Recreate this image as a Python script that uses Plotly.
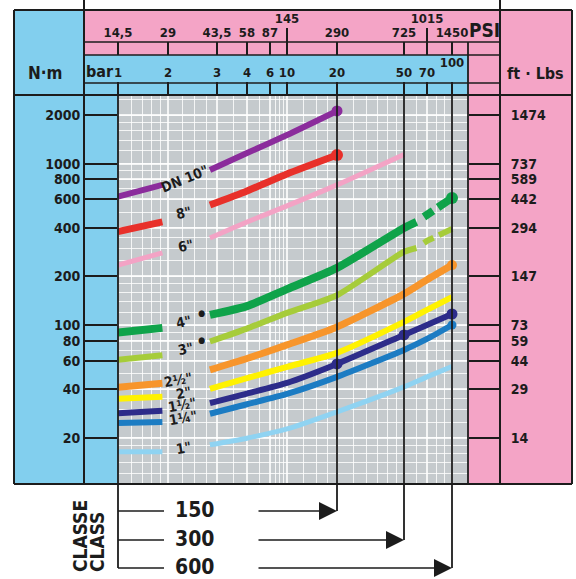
import numpy as np
import plotly.graph_objects as go

# ---------------- axis scales (as printed on the chart) ----------------
BAR_TICKS = [1, 2, 3, 4, 6, 10, 20, 50, 70, 100]
BAR_LABELS = ['1', '2', '3', '4', '6', '10', '20', '50', '70', '100']
PSI_LABELS = ['14,5', '29', '43,5', '58', '87', '145', '290', '725', '1015', '1450']
PSI_RAISED = ['145', '1015']
# non-uniform pressure scale of the printed chart (axis units, 0..350)
BAR_TICK_POS = [0, 50, 99, 129, 152, 169, 219, 286, 309, 334]
X_RANGE = [0, 350]

NM_TICKS = [20, 40, 60, 80, 100, 200, 400, 600, 800, 1000, 2000]
FTLB_LABELS = ['14', '29', '44', '59', '73', '147', '294', '442', '589', '737', '1474']

CLASSES = ['150', '300', '600']
CLASS_BAR = [20, 50, 100]

# ---------------- data: torque (N·m) vs pressure (bar) ----------------
SIZES = ['DN 10"', '8"', '6"', '4"', '3"', '2½"', '2"', '1½"', '1¼"', '1"']

P_STUB = [1.0, 1.85]
STUB_NM = {
    'DN 10"': [624, 738],
    '8"': [379, 435],
    '6"': [235, 280],
    '4"': [90, 96],
    '3"': [60.8, 65],
    '2½"': [41.2, 43.6],
    '2"': [34.9, 35.9],
    '1½"': [28.4, 29.4],
    '1¼"': [24.7, 25.1],
    '1"': [16.4, 16.4],
}

P_TO_20 = [2.83, 4, 10, 20]
P_TO_50 = [2.83, 4, 10, 20, 50]
P_TO_60 = [2.83, 4, 10, 20, 50, 60]
P_TO_100 = [2.83, 4, 10, 20, 50, 70, 100]
MAIN_P = {
    'DN 10"': P_TO_20, '8"': P_TO_20, '6"': P_TO_50,
    '4"': P_TO_60, '3"': P_TO_60,
    '2½"': P_TO_100, '2"': P_TO_100, '1½"': P_TO_100, '1¼"': P_TO_100, '1"': P_TO_100,
}
MAIN_NM = {
    'DN 10"': [913, 1163, 1504, 2120],
    '8"': [554, 677, 863, 1131],
    '6"': [346, 435, 547, 738, 1140],
    '4"': [115.6, 131, 167, 226, 399, 435],
    '3"': [79, 95, 119, 153, 284, 300],
    '2½"': [52.7, 62, 75.3, 97.3, 156, 191, 235],
    '2"': [40.2, 46.8, 55.0, 67.2, 104.5, 124, 149],
    '1½"': [32.8, 37.6, 43.8, 57.4, 86.8, 100, 117],
    '1¼"': [28.2, 32.3, 37.4, 47.7, 70.1, 82, 100],
    '1"': [18.1, 19.9, 22.7, 29.0, 41.4, 47.7, 55.3],
}
# dashed extension (higher class)
P_DASH = [60, 70, 100]
DASH_NM = {'4"': [435, 480, 612], '3"': [300, 332, 394]}

# highlighted points
DOTS = {'DN 10"': [20], '8"': [20], '4"': [100], '2½"': [100],
        '1½"': [20, 50, 100], '1¼"': [100]}

# ---------------- styles ----------------
COLORS = {
    'DN 10"': '#8b2c9c', '8"': '#e8302a', '6"': '#f3a3c5', '4"': '#0fa34a',
    '3"': '#a6cc3a', '2½"': '#f7952b', '2"': '#fff200', '1½"': '#2d2c8a',
    '1¼"': '#1c7cc3', '1"': '#8fd3f2',
}
WIDTHS = {
    'DN 10"': 6, '8"': 7, '6"': 5, '4"': 8, '3"': 6, '2½"': 7, '2"': 6,
    '1½"': 6, '1¼"': 6, '1"': 5,
}
DOT_SIZE = {'DN 10"': 11, '8"': 12, '4"': 12, '2½"': 10, '1½"': 11, '1¼"': 9}

INK = '#1c1c1c'
BLUE = '#82cfee'
PINK = '#f4a4c6'
GREY = '#c5cacd'
GRID = 'rgba(255,255,255,0.8)'
FONT = 'DejaVu Sans Condensed, Liberation Sans Narrow, Arial Narrow, sans-serif'

W, H = 576, 579
L, R, T, B = 118, 468, 10, 484   # paper area in pixels (plot x: 118..468)


def xpos(bar):
    return float(np.interp(np.log10(bar), np.log10(BAR_TICKS), BAR_TICK_POS))


def PX(x):
    return (x - L) / (R - L)


def PY(y):
    return (B - y) / (B - T)


GRID_BAR = [1.2, 1.4, 1.6, 1.8, 2.25, 2.5, 2.75, 3.5, 5, 7, 8, 9, 12.5, 15, 17.5,
            25, 30, 35, 40, 45, 60, 80, 90]
GRID_NM = [m * d for d in (10, 100, 1000) for m in (1, 1.2, 1.4, 1.6, 1.8, 2, 2.5, 3, 3.5, 4, 5, 6, 7, 8, 9)]

fig = go.Figure()

for name in SIZES:
    xs = [xpos(p) for p in P_STUB] + [None] + [xpos(p) for p in MAIN_P[name]]
    ys = STUB_NM[name] + [None] + MAIN_NM[name]
    fig.add_trace(go.Scatter(
        x=xs, y=ys, mode='lines', name=name, showlegend=False, hoverinfo='skip',
        line=dict(color=COLORS[name], width=WIDTHS[name], shape='spline', smoothing=0.6)))
    if name in DASH_NM:
        fig.add_trace(go.Scatter(
            x=[xpos(p) for p in P_DASH], y=DASH_NM[name], mode='lines', showlegend=False,
            hoverinfo='skip',
            line=dict(color=COLORS[name], width=WIDTHS[name], dash='0px,9px,11px,6px,20px,10px')))
    if name in DOTS:
        allp = MAIN_P[name] + (P_DASH if name in DASH_NM else [])
        allv = MAIN_NM[name] + (DASH_NM[name] if name in DASH_NM else [])
        lut = dict(zip(allp, allv))
        fig.add_trace(go.Scatter(
            x=[xpos(p) for p in DOTS[name]], y=[lut[p] for p in DOTS[name]], mode='markers',
            showlegend=False, hoverinfo='skip',
            marker=dict(color=COLORS[name], size=DOT_SIZE[name], line=dict(width=0))))

# invisible anchors so that the extra scale axes get drawn
for xa, ya in (('x3', 'y'), ('x4', 'y'), ('x5', 'y'), ('x', 'y2')):
    fig.add_trace(go.Scatter(x=[xpos(BAR_TICKS[0])], y=[NM_TICKS[4]], xaxis=xa, yaxis=ya,
                             mode='markers', marker=dict(opacity=0, size=1),
                             showlegend=False, hoverinfo='skip'))

# ---------------- decorations ----------------
shapes = []


def rect(x0, y0, x1, y1, fill):
    shapes.append(dict(type='rect', xref='paper', yref='paper', x0=PX(x0), x1=PX(x1),
                       y0=PY(y0), y1=PY(y1), fillcolor=fill, line=dict(width=0), layer='below'))


def line(x0, y0, x1, y1, w=2):
    shapes.append(dict(type='line', xref='paper', yref='paper', x0=PX(x0), x1=PX(x1),
                       y0=PY(y0), y1=PY(y1), line=dict(color=INK, width=w), layer='above'))


rect(14, 10, 118, 484, BLUE)
rect(84, 10, 572, 55, PINK)
rect(84, 55, 468, 95, BLUE)
rect(468, 55, 572, 484, PINK)

line(14, 10, 572, 10)
line(14, 484, 572, 484)
line(14, 10, 14, 484)
line(572, 10, 572, 484)
line(84, 0, 84, 484)
line(500, 0, 500, 484)
line(14, 95, 572, 95)
line(84, 42, 500, 42, 1.5)
line(84, 55, 500, 55, 1.5)
line(84, 83, 500, 83, 1.5)
line(118, 95, 118, 568, 1.8)
line(468, 42, 468, 484, 1.8)

CLASS_Y = [511, 540, 568]
annotations = []
for cls, cb, cy in zip(CLASSES, CLASS_BAR, CLASS_Y):
    shapes.append(dict(type='line', xref='x', yref='paper', x0=xpos(cb), x1=xpos(cb),
                       y0=PY(95), y1=PY(cy), line=dict(color=INK, width=1.8), layer='above'))
    line(118, cy, 164, cy, 1.5)
    annotations.append(dict(xref='paper', yref='paper', x=PX(194), y=PY(cy - 1), text=cls,
                            xanchor='center', yanchor='middle', showarrow=False,
                            font=dict(family=FONT, size=21, color=INK, weight='bold')))
    headpx = L + xpos(cb) * (R - L) / (X_RANGE[1] - X_RANGE[0])
    annotations.append(dict(xref='x', yref='paper', x=xpos(cb), y=PY(cy), text='',
                            showarrow=True, axref='pixel', ayref='pixel', ax=257 - headpx, ay=0,
                            arrowhead=2, arrowsize=2.4, arrowwidth=1.5, arrowcolor=INK,
                            standoff=0))


def label(text, x, y, size=14, angle=0, color=INK):
    annotations.append(dict(xref='paper', yref='paper', x=PX(x), y=PY(y), text=text,
                            xanchor='center', yanchor='middle', showarrow=False, textangle=angle,
                            font=dict(family=FONT, size=size, color=color, weight='bold')))


label('N·m', 45, 73, 17)
label('bar', 100, 72, 16)
label('PSI', 485, 30, 19)
label('ft · Lbs', 535, 73, 16)
label('CLASSE', 80, 536, 19, -90)
label('CLASS', 97, 542, 19, -90)

LABEL_PX = {
    'DN 10"': (184, 179, -22), '8"': (183, 213, -12), '6"': (185, 246, -12),
    '4"': (183, 322, -12), '3"': (185, 349, -12), '2½"': (178, 380, -10),
    '2"': (183, 393, -10), '1½"': (182, 405, -10), '1¼"': (183, 418, -10),
    '1"': (183, 448, -10),
}
for name in SIZES:
    x, y, a = LABEL_PX[name]
    label(name, x, y, 14, a)
label('●', 201, 313, 9)
label('●', 201, 340, 9)

leftfont = dict(family=FONT, size=14, color=INK, weight='bold')
rightfont = dict(family=FONT, size=14, color=INK, weight='bold')
topfont = dict(family=FONT, size=13, color=INK, weight='bold')

bar_vals = [xpos(b) for b in BAR_TICKS]
psi_reg = [(v, t) for v, t in zip(bar_vals, PSI_LABELS) if t not in PSI_RAISED]
psi_up = [(v, t) for v, t in zip(bar_vals, PSI_LABELS) if t in PSI_RAISED]

common = dict(automargin=False, zeroline=False, showline=False, fixedrange=True)

fig.update_layout(
    width=W, height=H,
    margin=dict(l=L, r=W - R, t=T, b=H - B, pad=0, autoexpand=False),
    paper_bgcolor='white', plot_bgcolor=GREY,
    showlegend=False,
    shapes=shapes, annotations=annotations,
    xaxis=dict(domain=[0, 1], range=X_RANGE, side='top', anchor='y',
               tickmode='array', tickvals=bar_vals,
               ticktext=[t if t != '100' else '' for t in BAR_LABELS],
               ticks='outside', ticklen=12, tickwidth=2, tickcolor=INK,
               showgrid=True, gridcolor=GRID, gridwidth=1.5,
               minor=dict(tickvals=[xpos(b) for b in GRID_BAR], showgrid=True,
                          gridcolor=GRID, gridwidth=1, ticks=''),
               tickfont=topfont, **common),
    xaxis5=dict(overlaying='x', range=X_RANGE, side='top', anchor='y',
                tickmode='array', tickvals=[xpos(100)], ticktext=['100'],
                ticks='outside', ticklen=12, tickwidth=2, tickcolor=INK,
                ticklabelstandoff=10, showgrid=False, tickfont=topfont, **common),
    xaxis3=dict(overlaying='x', range=X_RANGE, side='top', anchor='free', position=PY(55),
                tickmode='array', tickvals=[v for v, _ in psi_reg], ticktext=[t for _, t in psi_reg],
                ticks='outside', ticklen=13, tickwidth=2, tickcolor=INK,
                showgrid=False, tickfont=topfont, **common),
    xaxis4=dict(overlaying='x', range=X_RANGE, side='top', anchor='free', position=PY(55),
                tickmode='array', tickvals=[v for v, _ in psi_up], ticktext=[t for _, t in psi_up],
                ticks='outside', ticklen=27, tickwidth=2, tickcolor=INK,
                showgrid=False, tickfont=topfont, **common),
    yaxis=dict(type='log', domain=[0, PY(95)], range=[1.015, 3.425], anchor='x',
               tickmode='array', tickvals=NM_TICKS, ticktext=[str(v) for v in NM_TICKS],
               ticks='outside', ticklen=34, tickwidth=2, tickcolor=INK,
               showgrid=True, gridcolor=GRID, gridwidth=1.5,
               minor=dict(tickvals=GRID_NM, showgrid=True, gridcolor=GRID, gridwidth=1, ticks=''),
               tickfont=leftfont, **common),
    yaxis2=dict(type='log', overlaying='y', side='right', anchor='x', domain=[0, PY(95)],
                range=[1.015, 3.425], tickmode='array', tickvals=NM_TICKS, ticktext=FTLB_LABELS,
                ticks='outside', ticklen=31, tickwidth=2, tickcolor=INK, ticklabelstandoff=8,
                showgrid=False, tickfont=rightfont, **common),
)

fig.write_html("out.html", config={'displayModeBar': False},
               post_script="document.body.style.margin='0';document.body.style.padding='0';")
